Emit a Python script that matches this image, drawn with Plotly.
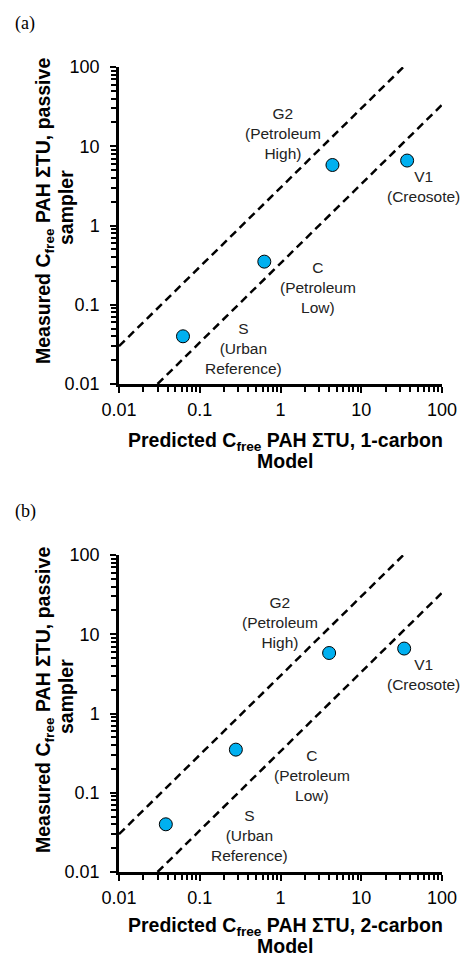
import plotly.graph_objects as go

# ---- data ----
sites = ["S", "C", "G2", "V1"]
site_labels = ["S<br>(Urban<br>Reference)", "C<br>(Petroleum<br>Low)",
               "G2<br>(Petroleum<br>High)", "V1<br>(Creosote)"]
measured = [0.040, 0.35, 5.8, 6.6]
predicted_1c = [0.062, 0.63, 4.4, 37.0]
predicted_2c = [0.038, 0.28, 4.0, 34.0]

# factor-of-3 reference lines (y = 3x and y = x/3)
upper_x = [0.01, 33.3]
upper_y = [0.03, 100.0]
lower_x = [0.03, 100.0]
lower_y = [0.01, 33.3]

tick_vals = [0.01, 0.1, 1, 10, 100]
tick_text = ["0.01", "0.1", "1", "10", "100"]

# label anchor positions (log10 data coords) per panel
label_pos_a = [(-0.464, -1.546), (0.464, -0.776), (0.031, 1.155), (1.765, 0.498)]
label_pos_b = [(-0.386, -1.539), (0.394, -0.778), (-0.006, 1.15), (1.765, 0.491)]

W, H = 460, 958
FONT = "Liberation Sans, Arial, sans-serif"
TITLE_SIZE = 19.5

fig = go.Figure()

def px_x(p):
    return p / W

def px_y(p):
    return 1 - p / H

x0, x1 = 119, 442
panels = [
    dict(top=67, bottom=384, pred=predicted_1c, labels=label_pos_a, tag="(a)", tagy=23,
         xt="Predicted C<sub>free</sub> PAH \u03a3TU, 1-carbon", xt1y=441, xt2y=461,
         yt_center=211),
    dict(top=555, bottom=872, pred=predicted_2c, labels=label_pos_b, tag="(b)", tagy=512,
         xt="Predicted C<sub>free</sub> PAH \u03a3TU, 2-carbon", xt1y=926, xt2y=946,
         yt_center=700),
]

annotations = []
for i, p in enumerate(panels):
    n = "" if i == 0 else str(i + 1)
    xa = "x" + n
    ya = "y" + n
    for lx, ly in ((upper_x, upper_y), (lower_x, lower_y)):
        fig.add_trace(go.Scatter(x=lx, y=ly, mode="lines",
                                 line=dict(color="black", width=2.5, dash="8px,5px"),
                                 xaxis=xa, yaxis=ya, showlegend=False, hoverinfo="skip"))
    fig.add_trace(go.Scatter(x=p["pred"], y=measured, mode="markers",
                             marker=dict(size=13, color="#00B0F0",
                                         line=dict(color="black", width=1)),
                             text=sites, xaxis=xa, yaxis=ya, showlegend=False))
    axis_common = dict(type="log", range=[-2, 2], showgrid=False, zeroline=False,
                       automargin=False,
                       showline=True, linecolor="black", linewidth=2.5,
                       ticks="outside", ticklen=6, tickwidth=2, tickcolor="black",
                       tickvals=tick_vals, ticktext=tick_text,
                       tickfont=dict(family=FONT, size=18, color="black"),
                       minor=dict(ticks="outside", ticklen=5, tickwidth=1.5, dtick="D1",
                                  tickcolor="black", showgrid=False))
    fig.update_layout(**{
        "xaxis" + n: dict(axis_common, domain=[px_x(x0), px_x(x1)], anchor=ya,
                          ticklabelstandoff=2),
        "yaxis" + n: dict(axis_common, domain=[px_y(p["bottom"]), px_y(p["top"])],
                          anchor=xa, ticklabelstandoff=7),
    })
    for txt, (lx, ly) in zip(site_labels, p["labels"]):
        annotations.append(dict(x=lx, y=ly, xref=xa, yref=ya, text=txt, showarrow=False,
                                align="center", xanchor="center", yanchor="middle",
                                font=dict(family=FONT, size=15.5, color="#222222")))
    annotations.append(dict(x=px_x(13), y=px_y(p["tagy"]), xref="paper", yref="paper",
                            text=p["tag"], showarrow=False, xanchor="left", yanchor="middle",
                            font=dict(family="Liberation Serif, Times New Roman, serif",
                                      size=18, color="black")))
    annotations.append(dict(x=px_x(285), y=px_y(p["xt1y"]), xref="paper", yref="paper",
                            text="<b>" + p["xt"] + "</b>", showarrow=False,
                            xanchor="center", yanchor="middle",
                            font=dict(family=FONT, size=TITLE_SIZE, color="black")))
    annotations.append(dict(x=px_x(285), y=px_y(p["xt2y"]), xref="paper", yref="paper",
                            text="<b>Model</b>", showarrow=False,
                            xanchor="center", yanchor="middle",
                            font=dict(family=FONT, size=TITLE_SIZE, color="black")))
    annotations.append(dict(x=px_x(44), y=px_y(p["yt_center"]), xref="paper", yref="paper",
                            text="<b>Measured C<sub>free</sub> PAH \u03a3TU, passive</b>",
                            showarrow=False, textangle=-90,
                            xanchor="center", yanchor="middle",
                            font=dict(family=FONT, size=TITLE_SIZE, color="black")))
    annotations.append(dict(x=px_x(66), y=px_y(p["yt_center"] - 3), xref="paper", yref="paper",
                            text="<b>sampler</b>",
                            showarrow=False, textangle=-90,
                            xanchor="center", yanchor="middle",
                            font=dict(family=FONT, size=TITLE_SIZE, color="black")))

fig.update_layout(width=W, height=H, margin=dict(l=0, r=0, t=0, b=0),
                  paper_bgcolor="white", plot_bgcolor="white",
                  annotations=annotations, showlegend=False)

fig.write_html("out.html", config={"displayModeBar": False},
               post_script="document.body.style.margin='0';document.body.style.overflow='hidden';")
